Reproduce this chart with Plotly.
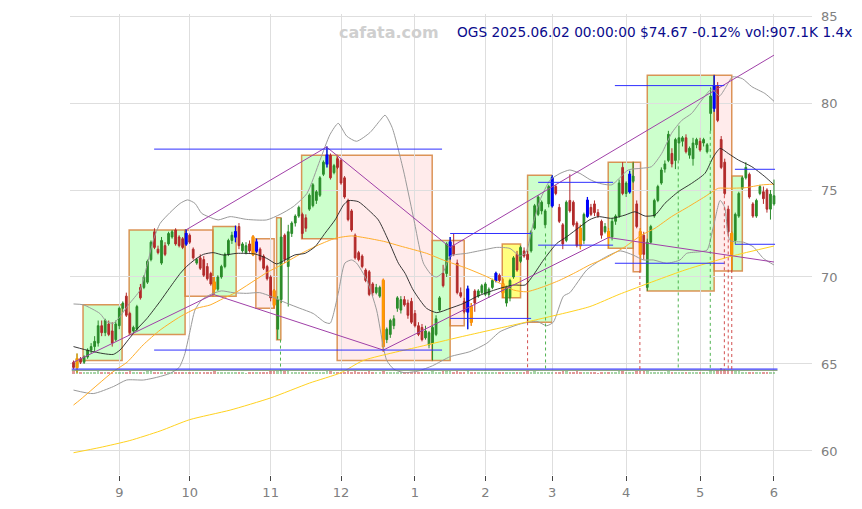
import plotly.graph_objects as go

# ---------------- data (trading-day index 0..199, 2024-08-14 .. 2025-06-02) ----------------
open_ = [
    65.1, 64.8, 65.3, 65.1, 65.4, 65.8, 66.0, 66.2, 67.2, 66.8,
    67.3, 66.9, 66.4, 67.2, 68.2, 68.9, 67.9, 66.9, 67.0, 69.4,
    69.4, 69.7, 71.0, 72.6, 71.6, 70.8, 71.8, 71.9, 72.3, 72.7,
    72.3, 72.2, 71.9, 72.4, 71.6, 70.8, 71.1, 71.0, 70.6, 70.2,
    69.7, 69.3, 70.0, 70.6, 71.3, 72.1, 72.3, 72.9, 71.5, 71.4,
    71.9, 72.3, 71.5, 71.6, 71.2, 70.6, 70.0, 69.2, 67.0, 68.7,
    72.4, 70.6, 72.5, 73.1, 73.5, 73.6, 73.4, 73.9, 74.1, 74.4,
    74.7, 75.9, 76.5, 77.0, 76.0, 76.8, 76.7, 75.7, 74.4, 73.8,
    72.4, 71.4, 71.2, 70.4, 70.3, 69.6, 69.1, 68.9, 69.8, 66.4,
    66.7, 67.2, 68.2, 68.1, 68.7, 68.5, 68.6, 67.9, 67.2, 67.1,
    66.5, 66.1, 66.2, 66.7, 68.1, 70.2, 70.2, 71.2, 71.8, 70.8,
    69.1, 68.6, 68.0, 68.3, 69.2, 68.9, 69.1, 69.0, 69.0, 69.4,
    69.8, 70.1, 69.6, 68.5, 68.8, 70.0, 71.3, 70.9, 71.5, 71.3,
    71.5, 72.8, 73.6, 73.8, 73.0, 74.2, 74.1, 75.2, 74.0, 73.0,
    72.1, 74.4, 74.3, 73.1, 72.8, 72.1, 73.5, 74.0, 74.2, 73.7,
    73.2, 72.6, 72.6, 72.3, 73.2, 73.5, 76.3, 74.8, 74.9, 75.5,
    74.2, 72.6, 72.4, 69.4, 72.0, 73.5, 74.4, 75.4, 76.2, 76.7,
    77.1, 76.7, 77.7, 77.8, 78.0, 77.0, 76.8, 77.6, 77.8, 77.7,
    77.2, 79.4, 79.7, 81.0, 77.9, 76.6, 73.9, 72.5, 72.1, 73.5,
    75.1, 75.7, 75.9, 74.2, 73.5, 74.8, 74.9, 75.0, 73.9, 74.2,
]
high = [
    65.2, 65.6, 65.4, 65.5, 65.9, 66.2, 66.6, 67.5, 67.5, 67.6,
    67.5, 67.4, 67.5, 68.3, 68.6, 69.1, 68.0, 67.2, 68.4, 69.6,
    70.1, 71.0, 72.1, 72.8, 71.8, 72.3, 72.0, 72.6, 72.7, 72.8,
    72.4, 72.3, 72.75, 72.5, 71.7, 71.1, 71.3, 71.2, 70.8, 70.3,
    70.0, 70.1, 70.7, 71.4, 72.2, 72.6, 72.95, 73.1, 72.0, 72.0,
    72.1, 72.4, 72.2, 71.7, 71.3, 70.7, 70.1, 69.3, 68.9, 73.4,
    72.5, 73.0, 73.2, 73.6, 74.1, 73.7, 73.6, 74.8, 75.4, 75.0,
    75.8, 76.7, 77.5, 77.1, 76.5, 76.9, 76.8, 75.8, 74.5, 73.9,
    72.5, 71.5, 71.3, 70.5, 70.4, 69.7, 69.6, 69.5, 69.9, 67.1,
    67.6, 67.8, 68.9, 68.9, 68.9, 68.7, 68.8, 68.1, 67.4, 67.3,
    67.2, 66.9, 67.2, 67.8, 68.9, 70.7, 72.0, 72.3, 72.5, 71.0,
    69.4, 68.8, 69.5, 68.5, 69.3, 69.3, 69.6, 69.7, 69.4, 69.9,
    70.3, 70.2, 69.9, 69.5, 69.9, 71.2, 71.5, 71.8, 71.7, 71.5,
    72.7, 74.2, 74.7, 74.4, 73.9, 75.3, 75.85, 75.3, 74.2, 73.1,
    74.4, 75.9, 74.4, 73.2, 73.0, 73.7, 74.6, 74.2, 74.4, 73.9,
    73.3, 73.1, 72.8, 73.4, 73.6, 75.6, 76.6, 75.5, 76.1, 76.6,
    74.4, 72.8, 72.6, 72.2, 73.0, 74.5, 75.3, 76.3, 76.7, 78.4,
    77.4, 78.0, 78.7, 78.1, 78.2, 77.5, 78.0, 78.0, 78.0, 78.0,
    77.7, 80.9, 81.6, 81.2, 78.1, 76.8, 74.1, 72.6, 73.7, 74.9,
    75.8, 76.6, 76.0, 74.3, 74.5, 75.3, 75.2, 75.1, 75.0, 75.6,
]
low = [
    64.7, 64.5, 65.0, 65.0, 65.3, 65.6, 65.7, 66.0, 66.6, 66.6,
    66.6, 66.0, 66.3, 67.0, 68.0, 67.7, 66.7, 66.8, 66.9, 68.7,
    69.3, 69.6, 70.9, 71.6, 71.3, 70.7, 71.2, 71.8, 72.2, 71.8,
    71.7, 71.6, 71.8, 71.9, 71.0, 70.7, 70.4, 70.0, 69.8, 69.5,
    69.0, 69.2, 69.9, 70.5, 71.2, 71.9, 72.0, 71.6, 71.4, 71.3,
    71.4, 71.2, 71.4, 70.9, 70.4, 69.8, 68.6, 68.2, 66.4, 68.5,
    70.8, 68.3, 72.3, 72.9, 73.4, 72.2, 72.6, 73.8, 74.0, 74.2,
    74.6, 75.8, 76.3, 75.6, 75.9, 76.2, 75.3, 74.5, 73.2, 72.6,
    71.0, 70.9, 70.5, 69.7, 68.9, 68.9, 69.0, 68.8, 65.7, 66.2,
    66.5, 67.0, 68.0, 67.9, 68.3, 67.6, 67.3, 67.1, 66.6, 66.3,
    66.4, 65.9, 65.2, 66.6, 68.0, 69.4, 70.0, 71.0, 71.2, 69.0,
    68.8, 67.9, 67.0, 67.2, 68.0, 68.8, 69.0, 68.9, 68.8, 69.3,
    69.7, 69.7, 68.8, 68.3, 68.6, 69.9, 70.3, 70.8, 71.1, 67.4,
    71.4, 72.7, 73.5, 73.6, 72.8, 74.0, 74.0, 74.7, 73.1, 71.6,
    72.0, 73.7, 72.9, 71.7, 71.6, 71.9, 73.4, 73.5, 73.5, 73.4,
    72.2, 72.5, 71.7, 72.1, 73.0, 73.4, 74.7, 74.6, 74.8, 75.4,
    72.8, 70.4, 71.0, 69.2, 71.9, 73.4, 74.3, 75.3, 76.0, 76.6,
    76.3, 76.2, 76.7, 77.5, 77.1, 76.8, 76.4, 77.4, 77.2, 77.5,
    77.1, 78.4, 79.5, 78.9, 76.2, 74.7, 72.5, 70.4, 71.9, 73.4,
    75.0, 75.6, 74.5, 73.4, 73.4, 74.7, 74.2, 73.7, 73.3, 74.1,
]
close = [
    64.8, 65.3, 65.1, 65.4, 65.8, 66.0, 66.3, 67.2, 66.8, 67.5,
    66.7, 66.2, 67.3, 68.2, 68.5, 67.8, 66.8, 67.1, 68.3, 68.8,
    70.0, 70.9, 72.0, 71.7, 71.4, 72.1, 71.3, 72.5, 72.6, 71.9,
    71.8, 71.7, 72.5, 72.0, 71.1, 71.0, 70.5, 70.1, 69.9, 69.6,
    69.3, 70.0, 70.6, 71.3, 72.1, 72.4, 72.6, 71.8, 71.9, 71.8,
    71.5, 71.3, 72.0, 71.0, 70.5, 69.9, 68.8, 68.4, 68.7, 72.3,
    71.0, 72.6, 73.1, 73.5, 74.0, 72.5, 72.8, 74.7, 75.3, 74.9,
    75.7, 76.6, 77.0, 75.7, 76.4, 76.3, 75.4, 74.6, 73.3, 72.7,
    71.1, 71.0, 70.6, 69.8, 69.0, 69.1, 69.4, 69.4, 66.0, 67.0,
    67.5, 67.6, 68.8, 68.7, 68.4, 67.8, 67.4, 67.2, 66.7, 66.4,
    66.9, 66.8, 67.1, 67.6, 68.8, 69.5, 71.9, 72.0, 71.3, 69.1,
    68.9, 68.0, 69.3, 67.4, 68.5, 69.2, 69.5, 69.6, 69.3, 69.8,
    70.2, 69.8, 69.1, 69.4, 69.8, 71.1, 70.4, 71.7, 71.2, 71.0,
    72.6, 74.1, 74.6, 74.3, 73.8, 75.2, 75.7, 74.8, 73.2, 71.9,
    74.3, 73.8, 73.0, 71.8, 71.8, 73.6, 74.4, 73.6, 73.7, 73.5,
    72.4, 72.9, 72.3, 73.2, 73.5, 75.4, 74.8, 75.4, 75.9, 75.8,
    72.9, 71.3, 71.3, 72.0, 72.9, 74.4, 75.2, 76.15, 76.5, 78.2,
    76.5, 77.9, 78.0, 78.0, 77.2, 77.4, 77.7, 77.9, 77.3, 77.9,
    77.6, 80.4, 81.0, 79.0, 76.3, 74.8, 72.6, 71.3, 73.6, 74.8,
    75.7, 76.3, 74.6, 73.5, 74.4, 75.2, 74.5, 73.9, 74.76, 74.67,
]
volume_k = [
    1100, 1300, 800, 700, 750, 820, 900, 1100, 850, 780, 700, 900, 760, 950, 720, 980, 1050, 700, 860, 900,
    950, 1000, 1200, 900, 700, 820, 640, 700, 600, 680, 720, 650, 900, 800, 850, 600, 700, 820, 900, 780,
    1000, 760, 700, 820, 880, 760, 900, 820, 600, 560, 640, 900, 800, 700, 720, 840, 1000, 1100, 1400, 1600,
    1200, 1300, 900, 800, 760, 900, 700, 880, 820, 700, 760, 900, 1100, 1000, 700, 640, 820, 900, 1000, 950,
    1200, 800, 760, 900, 1000, 700, 600, 640, 1300, 900, 800, 700, 760, 640, 600, 700, 800, 760, 900, 820,
    760, 800, 1000, 700, 900, 1100, 1200, 1000, 760, 1000, 800, 760, 1100, 900, 700, 640, 600, 700, 620, 680,
    700, 600, 760, 800, 700, 900, 800, 760, 640, 1300, 900, 1000, 860, 700, 760, 820, 900, 700, 800, 1000,
    1100, 900, 820, 1000, 900, 800, 760, 640, 600, 560, 700, 700, 760, 640, 600, 1000, 1200, 800, 900, 760,
    1100, 1300, 1000, 1400, 900, 820, 760, 800, 700, 1000, 760, 700, 800, 640, 700, 600, 700, 660, 640, 600,
    700, 1500, 1300, 1600, 2500, 1800, 1600, 1500, 1100, 1000, 900, 820, 860, 900, 700, 700, 640, 760, 900, 907,
]

pivot_high_idx = [32, 46, 52, 72, 107, 112, 120, 136, 146, 158, 182]
pivot_low_idx = [1, 40, 51, 57, 88, 113, 122, 144, 152, 161, 187]

month_tick_idx = [13, 33, 56, 76, 97, 117, 136, 157, 178, 199]
month_tick_text = ["9", "10", "11", "12", "1", "2", "3", "4", "5", "6"]

# moving averages / bands (index, value)
ma_short_idx = [0, 4.7, 8.4, 11.3, 13.2, 15.6, 18, 20.8, 24.6, 27.4, 30.3, 32.1, 34.5, 36.9, 39.7, 42.6,
                46.4, 51.6, 54.9, 57.7, 60.1, 62.9, 65.8, 68.6, 71.4, 74.3, 76.7, 78.1, 80.9, 83.8, 86.6,
                89.4, 92.3, 94.2, 96.5, 100.3, 103.2, 107, 110.8, 114.5, 117.4, 121.2, 125, 128.3, 130.6,
                133.5, 137.3, 140.1, 143.9, 146.7, 149.1, 152.9, 156.7, 159.5, 162.4, 165.2, 168, 171.8,
                175.6, 179.4, 181.8, 183.7, 186, 188.9, 192.7, 196.4, 199]
ma_short_val = [66.0, 65.75, 65.6, 65.55, 65.8, 66.4, 67.0, 67.6, 68.6, 69.4, 70.2, 70.6, 71.0, 71.3, 71.4,
                71.26, 71.36, 71.32, 71.07, 70.75, 70.98, 71.27, 71.36, 71.74, 72.5, 73.28, 74.14, 74.39,
                74.33, 73.85, 73.28, 72.13, 70.79, 70.21, 69.25, 68.2, 67.95, 68.2, 68.48, 68.87, 69.1,
                69.35, 69.54, 69.54, 70.1, 70.97, 71.93, 72.31, 72.89, 73.3, 73.47, 73.37, 73.56, 73.75,
                73.5, 73.56, 74.23, 74.9, 75.38, 75.96, 76.91, 77.39, 77.1, 76.72, 76.34, 75.77, 75.3]

ma_mid_idx = [0, 1.8, 11.2, 15.2, 19.8, 24.6, 30.3, 35, 38.8, 42.6, 46, 55.3, 58.2, 64.8, 69.6, 74.3, 79,
              83.8, 88.5, 92.8, 100.3, 105.1, 111.7, 117.4, 121.2, 125, 128.7, 133.5, 138.2, 143, 146.7,
              151, 156.7, 161.4, 165.2, 169.9, 174.7, 179.4, 183.2, 186, 190.8, 195.5, 199]
ma_mid_val = [62.64, 62.93, 64.55, 65.1, 66.1, 66.95, 67.72, 68.2, 68.39, 68.77, 69.1, 70.3, 70.6, 71.36,
              71.84, 72.22, 72.36, 72.22, 72.03, 71.78, 71.36, 70.97, 70.5, 70.02, 69.63, 69.25, 69.15,
              69.44, 69.82, 70.3, 70.7, 71.07, 71.74, 72.41, 72.8, 73.47, 74.04, 74.62, 75.1, 75.1, 75.13,
              75.29, 75.34]

ma_long_idx = [0, 7.5, 16, 24.6, 33, 44.5, 56, 67, 76, 82.3, 98.4, 109.8, 130.6, 146.7, 155, 173.7, 187, 199]
ma_long_val = [59.9, 60.2, 60.6, 61.15, 61.8, 62.35, 63.05, 63.9, 64.5, 65.2, 66.0, 66.55, 67.5, 68.3,
               69.0, 70.4, 71.2, 71.78]

band_up_idx = [0, 2.8, 7.5, 9.4, 11.3, 13.2, 15.6, 18.9, 20.8, 22.7, 24.6, 27.4, 30.3, 32.4, 34.5, 36.4,
               38.3, 41.1, 44.5, 49.2, 54.9, 58.7, 62.4, 66.3, 70, 72.9, 75.2, 77.6, 80.4, 84.2, 87.1, 88.5,
               90.5, 93.7, 96.5, 99.4, 101.8, 103.2, 105.1, 107, 111.7, 116.4, 120.2, 124, 126.8, 128.5,
               130.6, 132.5, 135.4, 138.2, 141, 143.9, 146.7, 149.1, 152.9, 157.6, 161.4, 164.2, 167.1,
               169.9, 172.8, 175.6, 178.5, 181.3, 183.5, 185.3, 187.2, 190, 192.7, 196.4, 199]
band_up_val = [68.45, 68.4, 67.9, 67.43, 67.34, 67.72, 68.4, 69.25, 70.6, 72.13, 73.08, 73.7, 74.23, 74.43,
               74.23, 73.66, 73.47, 73.28, 73.47, 73.31, 73.28, 73.6, 74.04, 74.8, 76.7, 78.2, 78.83, 78.1,
               77.8, 78.3, 79.0, 79.3, 78.6, 76.15, 73.5, 70.8, 70.1, 70.0, 70.3, 71.2, 71.36, 71.55, 71.7,
               71.64, 71.2, 71.4, 73.08, 74.4, 75.57, 75.95, 76.15, 75.95, 75.6, 75.4, 75.3, 76.15, 76.25,
               76.34, 77.1, 78.26, 79.0, 79.4, 80.17, 80.8, 80.4, 80.9, 81.5, 81.4, 80.94, 80.55, 80.1]

band_low_idx = [0, 5.6, 11.3, 15.1, 19.9, 24, 27.4, 30, 31.5, 33, 34.5, 36.5, 39, 42, 45.3, 49.1, 52.9,
                56.3, 60.5, 64.3, 68.1, 71.4, 72.9, 75.2, 77.1, 79, 80.4, 83.3, 86.1, 88, 89, 91, 94, 98,
                102, 107, 112.6, 117.4, 121.2, 126.9, 131.6, 134.4, 136.3, 139.2, 141, 145.8, 150.5, 155.3,
                159, 161.9, 164.7, 168.5, 172.3, 174.2, 178, 180, 181.8, 183.7, 185, 186.5, 190.3, 193.1,
                196, 199]
band_low_val = [63.5, 63.3, 63.7, 64.08, 64.08, 64.25, 64.46, 64.8, 65.5, 66.8, 68.1, 68.7, 69.0, 69.2,
                69.1, 69.06, 69.1, 68.87, 68.5, 68.2, 67.9, 67.4, 67.34, 69.06, 70.8, 70.98, 70.8, 69.83,
                68.1, 66.0, 65.2, 64.7, 64.5, 64.6, 64.9, 65.42, 65.71, 66.19, 66.86, 67.3, 67.45, 67.2,
                67.4, 68.9, 69.1, 70.4, 71.07, 71.5, 71.26, 70.98, 70.98, 70.79, 70.98, 71.36, 71.45,
                71.55, 72.9, 74.4, 74.0, 72.1, 72.0, 71.74, 71.07, 70.69]

# trend lines through swing highs / lows
trend_high_idx = [31.9, 71.9, 107.0, 199]
trend_high_val = [72.7, 77.47, 71.7, 82.75]
trend_low_idx = [0, 39.7, 88.0, 152.0, 199]
trend_low_val = [65.1, 69.0, 65.8, 72.27, 70.86]

# zones: start idx, end idx, bottom, top, kind
zone_start = [2.7, 15.8, 31.7, 39.6, 51.8, 57.7, 64.8, 74.9, 101.9, 107.0, 121.8, 129.0, 151.9, 159.0, 163.0, 182.0, 187.0]
zone_end = [13.8, 31.7, 39.6, 46.2, 57.0, 58.9, 74.9, 101.9, 107.0, 111.0, 127.0, 136.0, 159.0, 161.1, 182.0, 187.0, 190.0]
zone_low = [65.2, 66.7, 68.9, 68.9, 68.2, 66.4, 72.2, 65.2, 65.2, 67.2, 68.8, 67.4, 71.65, 70.3, 69.2, 70.35, 70.35]
zone_high = [68.4, 72.7, 72.7, 72.9, 72.2, 73.4, 77.0, 77.0, 72.1, 72.1, 71.9, 75.85, 76.6, 76.6, 81.6, 81.6, 75.8]
zone_kind = ["up", "up", "down", "up", "down", "up", "up", "down", "up", "down", "flat", "up", "up", "down", "up", "down", "up"]

# support / resistance levels: start idx, end idx, price
level_start = [22.9, 22.9, 107.0, 107.0, 132.0, 132.0, 153.8, 153.8, 187.9, 187.9]
level_end = [104.7, 104.7, 130.0, 130.0, 153.3, 153.3, 184.9, 184.9, 199.3, 199.3]
level_price = [77.35, 65.8, 72.5, 67.62, 75.44, 71.83, 81.0, 70.79, 76.19, 71.88]

# signal markers (dotted drops): idx, price, kind
signal_idx = [58.8, 129.0, 134.1, 160.9, 171.8, 180.9, 184.9, 186.0, 187.0]
signal_price = [66.4, 67.4, 72.5, 70.4, 76.7, 78.4, 74.7, 72.5, 70.4]
signal_kind = ["buy", "sell", "buy", "sell", "buy", "buy", "sell", "sell", "sell"]

vol_base = 64.43
vol_line_a = 64.70
vol_line_b = 64.63

# ---------------- figure ----------------
GREEN = "#2a8c2a"
RED = "#b22a2a"
idx = list(range(len(close)))

fig = go.Figure()

zone_fill = {"up": "rgba(0,255,0,0.2)", "down": "rgba(255,90,90,0.12)", "flat": "rgba(255,255,0,0.5)"}
for x0, x1, y0, y1, k in zip(zone_start, zone_end, zone_low, zone_high, zone_kind):
    fig.add_shape(type="rect", xref="x", yref="y", x0=x0, x1=x1, y0=y0, y1=y1,
                  fillcolor=zone_fill[k], line=dict(color="rgba(214,130,60,0.85)", width=1.5),
                  layer="below")

def add_line(xs, ys, color, width, dash=None):
    fig.add_trace(go.Scatter(x=xs, y=ys, mode="lines", hoverinfo="skip",
                             line=dict(color=color, width=width, dash=dash, shape="spline", smoothing=0.6)))

add_line(band_up_idx, band_up_val, "#9a9a9a", 1)
add_line(band_low_idx, band_low_val, "#9a9a9a", 1)
add_line(ma_long_idx, ma_long_val, "#ffd21f", 1)
add_line(ma_mid_idx, ma_mid_val, "#ffae2a", 1)
add_line(ma_short_idx, ma_short_val, "#222222", 0.9)

# volume strip
vol_colors = ["rgba(60,160,60,0.45)" if c >= o else "rgba(200,70,70,0.55)" for o, c in zip(open_, close)]
fig.add_trace(go.Bar(x=idx, y=[v * 0.00014 for v in volume_k], base=vol_base, width=0.7,
                     marker=dict(color=vol_colors, line=dict(width=0)), hoverinfo="skip"))
fig.add_trace(go.Scatter(x=[idx[0] - 0.5, idx[-1] + 1], y=[vol_line_a, vol_line_a], mode="lines",
                         line=dict(color="#3a3aff", width=1.2), hoverinfo="skip"))
fig.add_trace(go.Scatter(x=[idx[0] - 0.5, idx[-1] + 1], y=[vol_line_b, vol_line_b], mode="lines",
                         line=dict(color="rgba(120,150,110,0.9)", width=1), hoverinfo="skip"))

# dotted signal drops
for sx, sp, sk in zip(signal_idx, signal_price, signal_kind):
    col = "rgba(60,170,60,0.9)" if sk == "buy" else "rgba(205,60,60,0.9)"
    fig.add_trace(go.Scatter(x=[sx, sx], y=[sp, vol_line_b], mode="lines",
                             line=dict(color=col, width=1, dash="dot"), hoverinfo="skip"))

# candles
fig.add_trace(go.Candlestick(
    x=idx, open=open_, high=high, low=low, close=close,
    increasing=dict(line=dict(color=GREEN, width=1), fillcolor=GREEN),
    decreasing=dict(line=dict(color=RED, width=1), fillcolor=RED),
    whiskerwidth=0, hoverinfo="skip"))

def special(ids, color):
    fig.add_trace(go.Candlestick(
        x=ids, open=[open_[i] for i in ids], high=[high[i] for i in ids],
        low=[low[i] for i in ids], close=[close[i] for i in ids],
        increasing=dict(line=dict(color=color, width=1.2), fillcolor=color),
        decreasing=dict(line=dict(color=color, width=1.2), fillcolor=color),
        whiskerwidth=0, hoverinfo="skip"))

special(pivot_high_idx, "#0000ff")
special(pivot_low_idx, "#ff9900")

# trend lines
fig.add_trace(go.Scatter(x=trend_high_idx, y=trend_high_val, mode="lines",
                         line=dict(color="#a040a8", width=1), hoverinfo="skip"))
fig.add_trace(go.Scatter(x=trend_low_idx, y=trend_low_val, mode="lines",
                         line=dict(color="#a040a8", width=1), hoverinfo="skip"))

# levels
for x0, x1, p in zip(level_start, level_end, level_price):
    fig.add_trace(go.Scatter(x=[x0, x1], y=[p, p], mode="lines",
                             line=dict(color="#2f2fff", width=1), hoverinfo="skip"))

fig.add_annotation(xref="paper", yref="paper", x=1.057, y=0.960, xanchor="right", yanchor="middle",
                   text="OGS 2025.06.02 00:00:00 $74.67 -0.12% vol:907.1K 1.4x", showarrow=False,
                   font=dict(family="DejaVu Sans", size=13.7, color="#0a0a8c"))
fig.add_annotation(xref="paper", yref="paper", x=0.43, y=0.960, xanchor="center", yanchor="middle",
                   text="cafata.com", showarrow=False,
                   font=dict(family="DejaVu Sans", size=16, color="#cfcfcf", weight="bold"))

# the page body has an 8px margin: size the figure so the page fits the window exactly
fig.update_layout(
    width=846, height=493,
    margin=dict(l=62, r=42, t=6, b=26),
    paper_bgcolor="white", plot_bgcolor="white",
    showlegend=False,
    font=dict(family="DejaVu Sans", size=13, color="#808080"),
    xaxis=dict(range=[-1.0, 209.8], tickmode="array", tickvals=month_tick_idx, ticktext=month_tick_text,
               showgrid=True, gridcolor="#dedede", gridwidth=1, zeroline=False, showline=False,
               ticks="outside", ticklen=5, tickcolor="#444", tickfont=dict(size=13, color="#808080"),
               rangeslider=dict(visible=False), automargin=False),
    yaxis=dict(range=[58.62, 85.115], side="right", tickmode="array", tickvals=[60, 65, 70, 75, 80, 85],
               showgrid=True, gridcolor="#dedede", gridwidth=1, zeroline=False, showline=False,
               ticks="", ticklabelstandoff=8, tickfont=dict(size=13, color="#808080"), automargin=False),
    bargap=0,
)

fig.write_html("out.html")
